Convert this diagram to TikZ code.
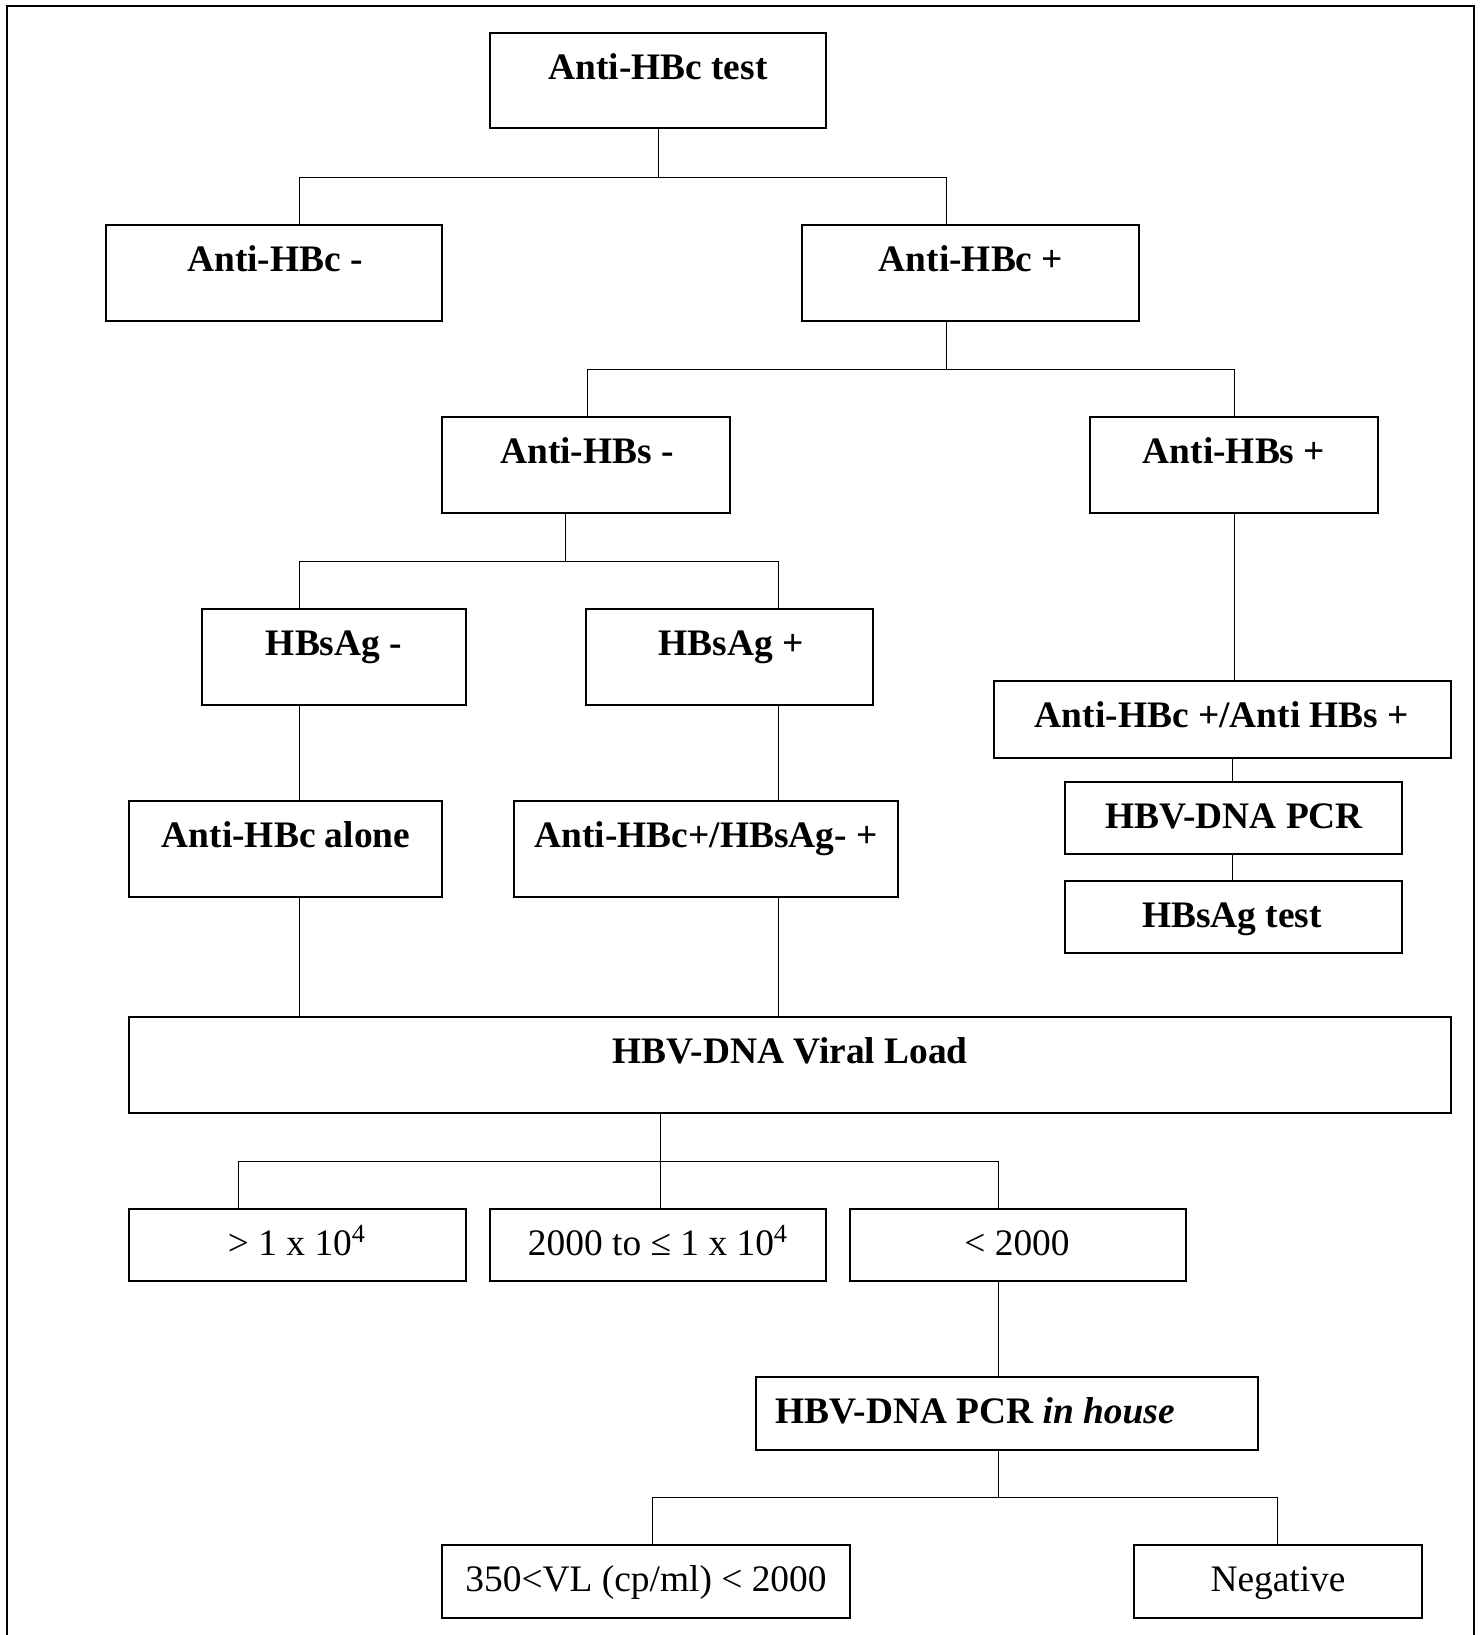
\documentclass[tikz,border=0pt]{standalone}
\usepackage{fontspec}
\setmainfont{Liberation Serif}
\begin{document}
\begin{tikzpicture}[x=0.5pt,y=-0.5pt,
  box/.style={draw, line width=0.75pt, inner sep=0pt, outer sep=0pt, rectangle},
  bl/.style={font=\fontsize{18.7}{22}\selectfont\bfseries, anchor=base, inner sep=0pt},
  rl/.style={font=\fontsize{18.7}{22}\selectfont, anchor=base, inner sep=0pt},
  conn/.style={line width=0.5pt},
  frame/.style={line width=0.8pt}]
\useasboundingbox (0,0) rectangle (1482,1635);
\newcommand\mkbox[8]{%
  \node[box, minimum width={(#4-#2)*0.5pt}, minimum height={(#5-#3)*0.5pt}] (#1) at ({(#2+#4)/2},{(#3+#5)/2}) {};
  \node[#7] (#1t) at (#6,{#3+46}) {#8};}
% frame
\coordinate (fbl) at (7,1635);
\coordinate (ftl) at (7,6);
\coordinate (ftr) at (1474,6);
\coordinate (fbr) at (1474,1635);
\draw[frame] (fbl) -- (ftl) -- (ftr) -- (fbr);
% boxes
\mkbox{top}{490}{33}{826}{128}{658}{bl}{Anti-HBc test}
\mkbox{cneg}{106}{225}{442}{321}{275}{bl}{Anti-HBc -}
\mkbox{cpos}{802}{225}{1139}{321}{971}{bl}{Anti-HBc +}
\mkbox{sneg}{442}{417}{730}{513}{587}{bl}{Anti-HBs -}
\mkbox{spos}{1090}{417}{1378}{513}{1234}{bl}{Anti-HBs +}
\mkbox{agneg}{202}{609}{466}{705}{334}{bl}{HBsAg -}
\mkbox{agpos}{586}{609}{873}{705}{731}{bl}{HBsAg +}
\mkbox{alone}{129}{801}{442}{897}{286}{bl}{Anti-HBc alone}
\mkbox{combo}{514}{801}{898}{897}{706}{bl}{Anti-HBc+/HBsAg- +}
\mkbox{both}{994}{681}{1451}{758}{1222}{bl}{Anti-HBc +/Anti HBs +}
\mkbox{pcr}{1065}{782}{1402}{854}{1234}{bl}{HBV-DNA PCR}
\mkbox{agtest}{1065}{881}{1402}{953}{1232}{bl}{HBsAg test}
\mkbox{vl}{129}{1017}{1451}{1113}{790}{bl}{HBV-DNA Viral Load}
\mkbox{ra}{129}{1209}{466}{1281}{297}{rl}{> 1 x 10\textsuperscript{4}}
\mkbox{rb}{490}{1209}{826}{1281}{658}{rl}{2000 to ≤ 1 x 10\textsuperscript{4}}
\mkbox{rc}{850}{1209}{1186}{1281}{1017}{rl}{< 2000}
\mkbox{inh}{756}{1377}{1258}{1450}{975}{bl}{HBV-DNA PCR \textit{in house}}
\mkbox{vlow}{442}{1545}{850}{1618}{646}{rl}{350<VL (cp/ml) < 2000}
\mkbox{negv}{1134}{1545}{1422}{1618}{1278}{rl}{Negative}
% junctions
\coordinate (j1l) at (299,177);
\coordinate (j1r) at (946,177);
\coordinate (j2l) at (587,369);
\coordinate (j2r) at (1234,369);
\coordinate (j3m) at (565,561);
\coordinate (j3l) at (299,561);
\coordinate (j3r) at (778,561);
\coordinate (j4l) at (238,1161);
\coordinate (j4m) at (660,1161);
\coordinate (j4r) at (998,1161);
\coordinate (j5m) at (998,1497);
\coordinate (j5l) at (652,1497);
\coordinate (j5r) at (1277,1497);
\begin{scope}[conn]
\draw (top.south) -- (top.south |- j1l);
\draw (j1l) -- (j1r);
\draw (j1l) -- (j1l |- cneg.north);
\draw (j1r) -- (j1r |- cpos.north);
\draw (j1r |- cpos.south) -- (j1r |- j2l);
\draw (j2l) -- (j2r);
\draw (j2l) -- (j2l |- sneg.north);
\draw (j2r) -- (j2r |- spos.north);
\draw (j3m |- sneg.south) -- (j3m);
\draw (j3l) -- (j3r);
\draw (j3l) -- (j3l |- agneg.north);
\draw (j3r) -- (j3r |- agpos.north);
\draw (j3l |- agneg.south) -- (j3l |- alone.north);
\draw (j3r |- agpos.south) -- (j3r |- combo.north);
\draw (j2r |- spos.south) -- (j2r |- both.north);
\draw ([xshift=-0.5pt]pcr.north |- both.south) -- ([xshift=-0.5pt]pcr.north);
\draw ([xshift=-0.5pt]pcr.south) -- ([xshift=-0.5pt]agtest.north);
\draw (j3l |- alone.south) -- (j3l |- vl.north);
\draw (j3r |- combo.south) -- (j3r |- vl.north);
\draw (j4m |- vl.south) -- (j4m);
\draw (j4l) -- (j4r);
\draw (j4l) -- (j4l |- ra.north);
\draw (j4m) -- (j4m |- rb.north);
\draw (j4r) -- (j4r |- rc.north);
\draw (j4r |- rc.south) -- (j4r |- inh.north);
\draw (j5m |- inh.south) -- (j5m);
\draw (j5l) -- (j5r);
\draw (j5l) -- (j5l |- vlow.north);
\draw (j5r) -- (j5r |- negv.north);
\end{scope}
\end{tikzpicture}
\end{document}
